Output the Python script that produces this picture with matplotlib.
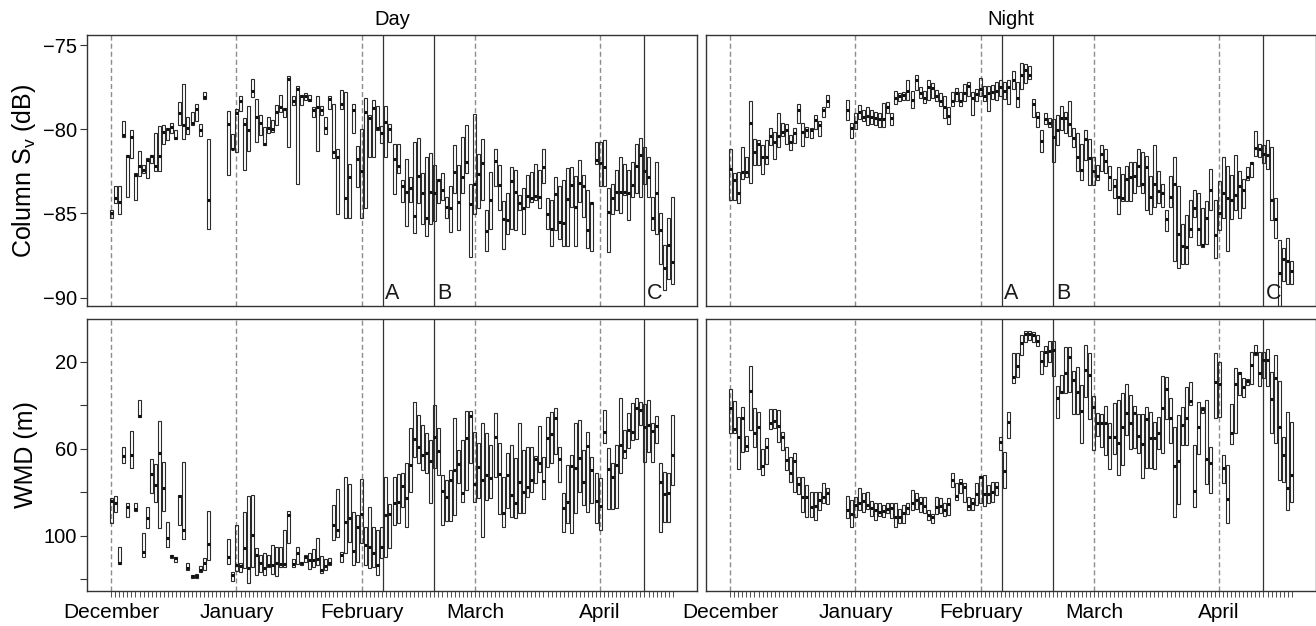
import numpy as np
import matplotlib
matplotlib.use("Agg")
import matplotlib.pyplot as plt

plt.rcParams['font.family'] = ['Liberation Sans', 'DejaVu Sans']

# sampling days (days since 1 December); no data 26-29 December
days = np.r_[np.arange(0, 25), np.arange(29, 140)]

month_days = [0, 31, 62, 90, 121]
month_labels = ['December', 'January', 'February', 'March', 'April']
event_days = [67.2, 80, 132]
event_labels = ['A', 'B', 'C']

# ---- Column Sv (dB), day: upper quartile, median, lower quartile ----
sv_day_hi = [-84.8, -83.4, -83.4, -79.5, -81.5, -80.05, -82.6, -81.3, -82.1, -81.7,
             -81.5, -80.25, -79.8, -79.75, -79.9, -79.6, -80.05, -78.4, -77.3, -79.3,
             -78.95, -78.5, -79.7, -77.8, -80.6,
             -78.9, -80.3, -78.8, -78.05, -79.35, -78.6, -77.0, -78.2, -79.15, -79.85,
             -79.3, -79.45, -78.55, -77.95, -78.75, -76.85, -78.05, -77.45, -77.95, -77.85,
             -77.95, -78.65, -78.05, -78.6, -79.3, -78.05, -78.5, -81.2, -77.65, -77.8,
             -82.05, -78.5, -81.0, -80.0, -78.15, -79.15, -78.25, -78.6, -79.8, -78.6,
             -79.7, -80.9, -80.9, -83.0, -81.75, -82.85, -80.75, -80.5, -82.6, -81.65,
             -81.4, -82.1, -82.95, -82.6, -84.0, -83.4, -80.95, -82.15, -80.45, -79.75,
             -83.25, -79.1, -81.45, -80.55, -84.8, -82.55, -81.15, -82.1, -84.25, -83.8,
             -82.25, -82.45, -83.9, -83.5, -82.7, -82.55, -82.05, -82.4, -81.15, -84.1,
             -84.2, -82.85, -83.4, -83.0, -82.3, -82.25, -82.75, -81.8, -82.7, -83.6,
             -84.35, -80.75, -80.75, -80.65, -83.5, -83.25, -82.45, -81.65, -82.05, -82.4,
             -81.95, -80.85, -80.5, -81.05, -81.65, -84.0, -81.95, -85.0, -86.9, -85.25,
             -84.0]
sv_day_med = [-85.0, -84.1, -84.3, -80.35, -81.6, -80.45, -82.7, -82.2, -82.4, -81.8,
              -81.6, -82.2, -81.6, -80.15, -80.0, -79.85, -80.5, -79.05, -79.75, -79.95,
              -79.65, -78.8, -80.05, -78.1, -84.2,
              -79.7, -81.15, -79.05, -78.35, -79.7, -80.05, -77.7, -79.25, -79.6, -80.85,
              -79.9, -80.0, -78.95, -78.65, -78.8, -77.0, -78.35, -77.6, -78.05, -78.05,
              -78.25, -78.85, -78.7, -78.85, -79.9, -78.2, -81.35, -81.65, -78.5, -84.1,
              -82.85, -78.85, -81.75, -82.5, -78.95, -79.35, -78.75, -79.95, -80.2, -79.55,
              -80.0, -81.75, -82.2, -83.35, -83.75, -83.5, -85.15, -82.75, -83.8, -85.25,
              -83.75, -83.8, -83.0, -83.6, -84.6, -84.7, -82.55, -84.3, -82.85, -81.95,
              -84.45, -83.25, -82.65, -82.0, -86.05, -84.2, -81.9, -83.3, -85.35, -85.4,
              -83.1, -83.7, -84.4, -84.65, -83.95, -84.1, -83.95, -84.05, -82.25, -85.05,
              -85.9, -83.85, -85.5, -85.55, -84.15, -83.3, -84.6, -83.2, -83.4, -86.0,
              -84.4, -81.8, -82.0, -82.25, -84.9, -84.1, -83.7, -83.7, -83.7, -83.8,
              -83.3, -82.2, -81.55, -82.45, -82.85, -85.25, -83.8, -86.0, -88.25, -86.9,
              -87.9]
sv_day_lo = [-85.3, -84.4, -85.05, -80.45, -84.0, -81.7, -84.2, -82.8, -82.6, -82.9,
             -82.0, -82.5, -82.5, -80.85, -80.65, -80.25, -80.6, -79.75, -80.6, -80.3,
             -79.75, -79.5, -80.4, -78.2, -85.95,
             -82.7, -81.2, -81.35, -78.9, -82.4, -81.3, -78.1, -80.75, -80.35, -80.95,
             -80.25, -80.15, -79.75, -78.95, -79.25, -81.05, -78.55, -83.25, -78.55, -78.25,
             -78.35, -79.3, -81.3, -79.15, -80.3, -78.8, -81.7, -85.05, -78.8, -85.25,
             -85.3, -80.25, -83.45, -85.3, -84.7, -81.65, -81.65, -80.05, -80.8, -81.65,
             -80.75, -83.85, -82.6, -84.3, -85.75, -84.3, -86.15, -84.4, -85.6, -86.35,
             -85.6, -85.45, -84.4, -84.2, -85.3, -86.1, -83.8, -86.0, -83.8, -82.6,
             -87.6, -85.05, -84.65, -84.2, -87.25, -85.95, -83.4, -84.8, -87.1, -86.2,
             -85.95, -86.0, -84.8, -86.2, -84.6, -84.3, -84.2, -84.7, -83.2, -85.95,
             -86.95, -86.0, -86.5, -86.95, -86.95, -84.6, -86.95, -84.3, -85.2, -87.05,
             -87.25, -82.05, -83.4, -83.4, -87.3, -85.05, -84.8, -85.0, -83.9, -85.4,
             -84.0, -83.8, -84.0, -83.25, -84.0, -86.0, -86.25, -88.0, -89.55, -88.9,
             -89.2]

# ---- Column Sv (dB), night ----
sv_night_hi = [-81.2, -82.6, -82.55, -81.05, -81.65, -78.3, -80.55, -80.65, -80.95, -80.65,
               -79.9, -80.15, -79.05, -79.65, -79.7, -80.35, -79.9, -78.5, -79.6, -79.85,
               -79.9, -79.15, -79.5, -78.65, -77.95,
               -78.25, -79.6, -79.05, -78.55, -78.85, -78.65, -78.85, -78.95, -79.05, -78.45,
               -78.4, -79.05, -77.7, -77.85, -77.8, -77.1, -77.7, -76.8, -77.5, -77.75,
               -77.05, -77.25, -77.65, -77.85, -78.05, -78.7, -77.8, -77.55, -77.8, -77.3,
               -77.2, -77.8, -77.6, -76.95, -77.45, -77.45, -77.4, -77.2, -77.1, -77.2,
               -77.05, -76.55, -77.2, -76.05, -76.1, -76.25, -78.2, -78.95, -80.05, -79.05,
               -79.35, -79.4, -79.15, -78.6, -78.95, -78.3, -79.95, -80.25, -80.85, -80.05,
               -80.55, -81.65, -82.15, -80.95, -81.15, -82.2, -82.95, -82.25, -82.65, -82.2,
               -81.95, -81.95, -81.2, -81.35, -81.6, -82.75, -80.95, -82.45, -83.25, -84.8,
               -82.75, -81.65, -83.35, -85.6, -85.1, -84.2, -83.6, -83.8, -84.7, -84.25,
               -82.35, -84.2, -83.05, -81.65, -82.2, -82.7, -81.55, -82.45, -82.95, -82.25,
               -81.95, -80.1, -80.85, -80.95, -80.65, -81.05, -84.1, -86.55, -87.05, -86.45,
               -87.8]
sv_night_med = [-82.35, -83.0, -83.8, -82.55, -82.55, -79.65, -81.35, -80.85, -81.65, -81.65,
                -80.4, -80.75, -80.4, -80.15, -80.05, -80.75, -80.25, -78.85, -80.15, -80.05,
                -80.05, -79.45, -79.75, -78.85, -78.35,
                -78.85, -79.9, -79.55, -79.0, -79.3, -79.2, -79.3, -79.35, -79.4, -79.4,
                -78.7, -79.35, -78.15, -78.05, -77.95, -77.75, -78.25, -77.1, -77.85, -78.15,
                -77.5, -77.55, -78.0, -78.3, -78.65, -79.2, -78.3, -77.85, -78.35, -77.85,
                -77.45, -78.15, -77.9, -77.6, -78.05, -77.85, -77.8, -77.7, -77.5, -77.7,
                -77.5, -77.1, -78.15, -76.8, -76.45, -76.8, -78.5, -79.3, -80.7, -79.4,
                -79.6, -80.45, -80.05, -79.35, -79.35, -79.7, -80.5, -81.65, -82.4, -80.6,
                -81.7, -82.45, -82.8, -81.45, -81.9, -82.85, -83.35, -84.0, -84.1, -82.95,
                -82.85, -82.75, -82.2, -83.25, -82.25, -84.0, -83.25, -83.65, -83.8, -85.35,
                -84.0, -83.25, -86.25, -86.95, -87.0, -85.95, -84.7, -85.95, -86.9, -85.3,
                -83.6, -86.3, -85.0, -83.8, -84.1, -84.2, -83.9, -83.4, -83.6, -82.85,
                -82.0, -81.1, -81.15, -81.45, -81.5, -84.2, -85.35, -88.55, -87.7, -87.8,
                -88.4]
sv_night_lo = [-84.2, -84.2, -84.4, -82.95, -82.85, -83.2, -82.15, -82.1, -82.65, -82.05,
               -80.95, -81.75, -81.05, -80.4, -80.85, -81.25, -80.8, -79.6, -81.0, -80.45,
               -80.5, -80.0, -80.4, -79.3, -78.65,
               -79.45, -80.5, -80.0, -79.4, -79.5, -79.75, -79.7, -79.75, -79.85, -79.85,
               -79.05, -79.75, -78.5, -78.3, -78.25, -78.25, -78.75, -77.65, -78.15, -78.45,
               -78.25, -78.15, -78.35, -78.6, -79.35, -79.7, -78.6, -78.35, -78.6, -78.35,
               -78.0, -79.15, -78.35, -78.05, -78.3, -78.9, -78.2, -78.25, -78.05, -78.2,
               -78.5, -77.6, -78.65, -77.6, -77.25, -77.0, -79.3, -79.85, -81.35, -79.7,
               -79.85, -81.95, -80.95, -80.05, -80.25, -80.4, -81.05, -82.45, -83.0, -81.8,
               -83.3, -83.3, -83.0, -82.45, -82.6, -83.6, -84.1, -85.05, -84.25, -84.25,
               -84.25, -83.8, -83.4, -83.8, -84.8, -85.05, -84.6, -84.4, -84.6, -86.05,
               -84.6, -87.8, -88.25, -88.0, -88.0, -86.4, -85.2, -86.9, -87.0, -86.8,
               -84.8, -87.65, -86.0, -85.3, -87.25, -85.35, -84.8, -85.3, -84.7, -83.0,
               -82.85, -81.6, -81.65, -82.0, -82.35, -85.4, -86.45, -90.7, -89.0, -89.2,
               -89.2]

# ---- WMD (m), day: shallow quartile, median, deep quartile ----
wmd_day_top = [82.8, 81.8, 105.4, 59.1, 85.1, 51.7, 85.1, 37.6, 98.6, 87.0,
               64.8, 67.0, 47.1, 66.0, 93.6, 108.9, 109.7, 81.3, 66.0, 112.7,
               118.1, 117.6, 114.0, 110.4, 88.5,
               101.7, 116.6, 95.1, 112.4, 89.0, 81.8, 81.3, 105.8, 108.9, 108.1,
               108.9, 104.3, 105.4, 105.4, 97.4, 88.5, 110.9, 105.4, 112.0, 108.9,
               108.1, 106.3, 101.2, 109.3, 110.9, 110.4, 85.9, 78.7, 107.4, 72.9,
               76.2, 89.0, 90.5, 73.7, 95.9, 86.7, 95.9, 97.4, 95.9, 72.9,
               85.5, 72.9, 71.6, 71.3, 66.7, 50.7, 38.4, 44.5, 49.1, 53.0,
               56.0, 39.9, 50.7, 72.1, 74.4, 69.8, 46.1, 60.6, 56.0, 42.5,
               42.5, 52.2, 57.5, 48.4, 52.6, 58.3, 43.4, 57.2, 72.9, 61.8,
               58.3, 64.4, 48.4, 60.6, 59.1, 59.4, 63.4, 49.6, 63.7, 45.3,
               43.0, 41.1, 59.1, 80.5, 67.5, 62.9, 48.4, 46.8, 60.6, 52.2,
               63.7, 71.3, 73.6, 42.2, 59.8, 66.7, 58.3, 36.9, 51.4, 43.8,
               39.2, 36.9, 38.4, 39.5, 37.6, 48.4, 45.0, 66.7, 70.6, 71.0,
               44.5]
wmd_day_med = [83.9, 84.8, 112.5, 63.2, 86.7, 62.9, 87.9, 45.0, 107.4, 92.0,
               71.6, 76.7, 61.8, 78.2, 101.2, 109.3, 110.4, 81.8, 97.4, 115.0,
               118.5, 118.5, 115.8, 112.7, 103.8,
               109.7, 118.1, 113.5, 113.9, 105.8, 115.0, 99.7, 108.9, 112.7, 115.0,
               113.5, 113.5, 112.7, 113.0, 113.0, 90.5, 113.0, 108.1, 112.7, 110.0,
               111.2, 111.2, 110.9, 115.8, 113.9, 112.4, 95.1, 97.4, 108.9, 93.9,
               92.0, 106.9, 96.2, 90.1, 104.3, 105.4, 108.1, 113.5, 105.4, 90.5,
               90.1, 84.8, 84.4, 77.2, 82.8, 67.5, 55.7, 59.1, 62.9, 62.1,
               65.5, 54.5, 60.9, 79.3, 82.4, 74.4, 69.8, 67.0, 80.2, 55.2,
               45.0, 76.2, 68.3, 74.4, 72.1, 73.6, 54.8, 71.6, 89.7, 72.1,
               81.3, 85.1, 75.2, 79.8, 77.5, 74.4, 64.9, 66.7, 74.7, 54.9,
               53.3, 46.1, 64.9, 87.4, 84.4, 68.0, 69.0, 64.4, 75.2, 58.8,
               69.8, 83.9, 86.4, 52.2, 69.5, 73.2, 67.5, 58.3, 60.9, 51.4,
               52.2, 41.5, 42.2, 50.2, 49.1, 51.7, 49.6, 75.2, 80.8, 80.2,
               62.9]
wmd_day_bot = [94.3, 89.0, 113.0, 66.4, 91.6, 69.0, 88.7, 45.6, 109.7, 96.6,
               80.2, 84.4, 96.6, 88.5, 105.1, 110.4, 112.0, 95.1, 101.7, 115.8,
               119.6, 119.6, 116.6, 115.8, 111.2,
               113.0, 120.7, 116.1, 116.6, 115.0, 121.9, 114.3, 118.1, 116.6, 118.1,
               114.6, 117.4, 118.5, 114.3, 114.3, 103.5, 114.3, 113.0, 113.5, 112.0,
               115.4, 114.6, 113.5, 117.0, 115.8, 113.5, 102.0, 100.5, 112.0, 108.1,
               102.8, 113.5, 112.0, 103.5, 113.5, 115.0, 114.3, 118.1, 110.4, 109.7,
               105.8, 95.1, 94.3, 86.7, 95.9, 79.8, 63.7, 66.7, 69.8, 71.3,
               84.8, 69.0, 72.1, 95.1, 93.1, 93.1, 90.5, 75.9, 84.4, 79.0,
               66.7, 84.4, 82.8, 100.5, 83.6, 82.8, 72.9, 90.0, 95.9, 87.4,
               91.3, 92.0, 89.7, 89.4, 82.1, 79.8, 75.9, 70.6, 83.3, 68.3,
               66.7, 62.5, 75.2, 98.2, 94.3, 98.6, 89.7, 79.8, 85.9, 89.0,
               85.1, 94.3, 97.4, 57.5, 87.9, 87.9, 87.4, 71.3, 64.4, 59.8,
               56.0, 55.7, 49.1, 66.0, 61.4, 66.0, 57.5, 98.2, 93.6, 93.6,
               76.7]

# ---- WMD (m), night ----
wmd_night_top = [32.7, 37.9, 45.3, 41.0, 54.2, 22.0, 41.5, 43.0, 60.3, 55.2,
                 41.9, 41.9, 42.2, 52.2, 59.1, 63.7, 61.8, 72.9, 72.9, 76.7,
                 79.8, 79.8, 79.8, 75.9, 78.2,
                 81.8, 83.6, 82.1, 78.2, 80.2, 79.8, 83.9, 84.8, 85.1, 85.9,
                 85.1, 85.1, 85.1, 87.9, 85.9, 85.1, 79.0, 80.5, 82.1, 82.4,
                 88.2, 90.0, 82.1, 82.8, 84.8, 82.8, 71.3, 75.9, 74.1, 75.6,
                 82.1, 82.8, 75.6, 72.6, 72.1, 76.7, 75.2, 75.2, 54.5, 61.4,
                 43.0, 16.2, 16.2, 7.7, 5.7, 5.7, 6.2, 7.7, 14.9, 12.8,
                 10.3, 10.3, 31.2, 26.1, 13.4, 13.4, 24.1, 22.3, 30.7, 12.3,
                 16.2, 35.8, 43.4, 44.1, 40.4, 48.0, 38.9, 37.6, 34.6, 30.3,
                 35.3, 40.4, 44.1, 44.1, 40.7, 43.0, 47.6, 45.3, 26.6, 26.9,
                 36.9, 49.9, 44.5, 41.0, 31.8, 29.2, 58.3, 38.4, 40.7, 37.6,
                 59.1, 16.2, 20.0, 62.9, 67.5, 39.5, 23.1, 24.6, 27.7, 28.1,
                 15.4, 12.3, 15.4, 15.4, 14.3, 24.6, 16.9, 28.7, 54.5, 43.0,
                 47.6]
wmd_night_med = [41.5, 51.1, 54.8, 46.1, 58.8, 33.3, 52.6, 50.2, 68.0, 59.4,
                 48.4, 47.1, 49.6, 54.5, 65.2, 71.3, 65.5, 76.2, 82.1, 82.4,
                 86.7, 86.4, 83.6, 82.4, 80.5,
                 88.2, 90.0, 85.9, 85.1, 83.9, 85.9, 87.4, 88.2, 89.0, 88.5,
                 87.9, 87.4, 91.3, 91.3, 89.7, 87.4, 85.1, 83.6, 84.8, 86.4,
                 90.5, 91.3, 86.7, 86.4, 88.2, 85.4, 74.4, 81.8, 75.9, 77.8,
                 86.4, 84.8, 80.8, 73.2, 80.8, 80.8, 79.8, 77.5, 56.8, 70.1,
                 47.6, 26.9, 22.0, 11.3, 7.3, 7.3, 7.7, 10.3, 19.5, 15.4,
                 14.9, 14.6, 36.9, 33.8, 25.1, 17.7, 28.4, 33.8, 42.5, 23.8,
                 26.1, 41.0, 48.0, 48.0, 48.4, 54.8, 54.5, 57.5, 50.2, 43.8,
                 48.0, 43.8, 54.2, 57.9, 46.5, 55.2, 55.2, 52.6, 41.5, 32.7,
                 46.1, 68.0, 65.5, 49.1, 46.1, 37.9, 79.3, 50.2, 41.9, 64.9,
                 66.7, 29.2, 30.3, 69.0, 83.3, 53.0, 30.3, 25.4, 31.8, 28.7,
                 21.5, 15.9, 25.4, 19.2, 19.2, 37.3, 27.7, 49.9, 62.9, 78.2,
                 72.1]
wmd_night_bot = [52.6, 52.6, 69.5, 61.4, 60.9, 51.4, 59.4, 69.5, 72.1, 67.0,
                 51.1, 50.7, 56.8, 60.6, 69.8, 75.2, 79.8, 80.8, 89.0, 91.3,
                 91.6, 92.8, 88.2, 85.1, 85.4,
                 92.0, 96.2, 91.3, 88.2, 89.0, 87.9, 91.0, 92.8, 91.0, 91.3,
                 89.7, 92.0, 96.2, 94.3, 94.3, 90.0, 88.2, 87.9, 89.0, 89.4,
                 92.8, 94.3, 90.0, 89.4, 91.0, 90.5, 77.5, 83.6, 80.2, 84.4,
                 88.2, 88.2, 85.9, 84.8, 86.4, 84.8, 84.4, 81.3, 60.6, 78.2,
                 55.2, 29.7, 26.9, 16.9, 10.8, 10.0, 10.8, 12.8, 25.7, 22.0,
                 20.0, 26.6, 46.1, 34.6, 34.3, 33.8, 44.1, 44.1, 57.5, 36.4,
                 46.5, 60.6, 54.2, 59.4, 62.9, 69.5, 62.5, 72.1, 67.5, 53.7,
                 60.3, 59.8, 61.8, 73.6, 69.0, 69.0, 69.5, 60.3, 61.8, 46.5,
                 57.5, 91.6, 85.4, 58.3, 58.3, 40.0, 86.7, 62.5, 43.8, 76.2,
                 80.2, 46.1, 45.3, 75.6, 94.0, 57.9, 53.0, 35.3, 36.4, 30.7,
                 30.3, 16.9, 31.2, 27.7, 31.2, 52.6, 57.2, 74.4, 75.2, 88.2,
                 84.4]

BOX_W = 0.74
EDGE = '#2a2a2a'


def draw_boxes(ax, q_a, med, q_b):
    q_a = np.asarray(q_a)
    q_b = np.asarray(q_b)
    lo = np.minimum(q_a, q_b)
    hi = np.maximum(q_a, q_b)
    ax.bar(days, hi - lo, bottom=lo, width=BOX_W, facecolor='none',
           edgecolor=EDGE, linewidth=0.8, zorder=2)
    ax.hlines(med, days - BOX_W / 2, days + BOX_W / 2, colors='#111111',
              linewidth=2.2, zorder=3)


def draw_markers(ax, letters):
    for d in month_days:
        ax.axvline(d, color='#8c8c8c', linewidth=1.0, dashes=(3.6, 2.2), zorder=1)
    for d, lab in zip(event_days, event_labels):
        ax.axvline(d, color='#333333', linewidth=0.9, zorder=1)
        if letters:
            ax.text(d + 0.6, 0.008, lab, transform=ax.get_xaxis_transform(),
                    ha='left', va='bottom', fontsize=15.5, color='#1a1a1a')


fig = plt.figure(figsize=(13.16, 6.26), dpi=100)
W = 610 / 1316
pos = {
    'day_sv': [87 / 1316, 1 - 306 / 626, W, 271 / 626],
    'night_sv': [706 / 1316, 1 - 306 / 626, W, 271 / 626],
    'day_wmd': [87 / 1316, 1 - 591 / 626, W, 272 / 626],
    'night_wmd': [706 / 1316, 1 - 591 / 626, W, 272 / 626],
}
axes = {k: fig.add_axes(v) for k, v in pos.items()}

draw_boxes(axes['day_sv'], sv_day_hi, sv_day_med, sv_day_lo)
draw_boxes(axes['night_sv'], sv_night_hi, sv_night_med, sv_night_lo)
draw_boxes(axes['day_wmd'], wmd_day_top, wmd_day_med, wmd_day_bot)
draw_boxes(axes['night_wmd'], wmd_night_top, wmd_night_med, wmd_night_bot)

for key, ax in axes.items():
    top = key.endswith('_sv')
    draw_markers(ax, letters=top)
    ax.set_xlim(-6, 145)
    for sp in ax.spines.values():
        sp.set_linewidth(1.0)
        sp.set_color('#333333')
    if top:
        ax.set_ylim(-90.5, -74.4)
        ax.set_xticks([])
    else:
        ax.set_ylim(125.4, 0.4)
        ax.set_xticks(month_days, month_labels)
        ax.set_xticks(np.arange(0, 140), minor=True)
        ax.tick_params(axis='x', which='both', length=4.3, width=0.6,
                       color='#333333', labelsize=15, pad=4)
    if key.startswith('night'):
        ax.set_yticks([])

axes['day_sv'].set_yticks([-90, -85, -80, -75])
axes['day_wmd'].set_yticks([20, 40, 60, 80, 100, 120], ['20', '', '60', '', '100', ''])
for k in ('day_sv', 'day_wmd'):
    axes[k].tick_params(axis='y', length=5, width=0.8, color='#333333',
                        labelsize=14.5, pad=2)

axes['day_sv'].set_ylabel('Column S$_\\mathregular{v}$ (dB)', fontsize=18)
axes['day_wmd'].set_ylabel('WMD (m)', fontsize=18)
for k in ('day_sv', 'day_wmd'):
    axes[k].yaxis.set_label_coords(-0.08, 0.5)

axes['day_sv'].set_title('Day', fontsize=14.5, pad=7)
axes['night_sv'].set_title('Night', fontsize=14.5, pad=7)

fig.savefig('out.png', dpi=100)
